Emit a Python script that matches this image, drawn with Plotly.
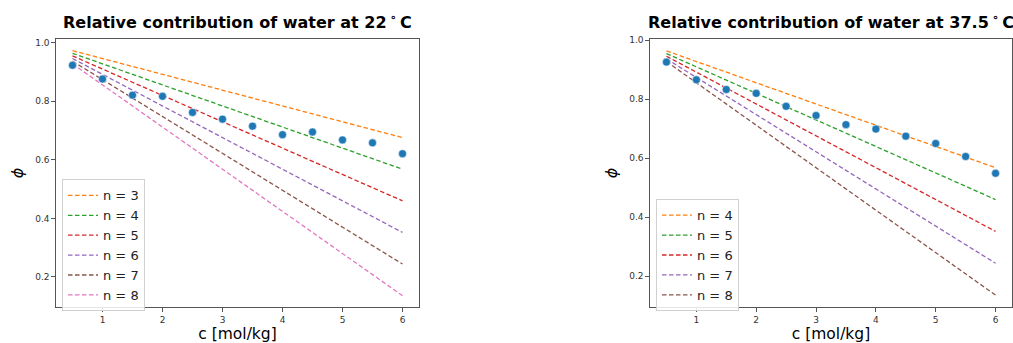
import plotly.graph_objects as go

# ---- data ----
c_points = [0.5, 1.0, 1.5, 2.0, 2.5, 3.0, 3.5, 4.0, 4.5, 5.0, 5.5, 6.0]
phi_22 = [0.923, 0.876, 0.821, 0.817, 0.762, 0.739, 0.715, 0.686, 0.695, 0.668, 0.658, 0.621]
phi_375 = [0.926, 0.866, 0.833, 0.820, 0.776, 0.745, 0.714, 0.699, 0.675, 0.650, 0.606, 0.549]

c_line = [0.5, 6.0]
n_values_22 = [3, 4, 5, 6, 7, 8]
n_values_375 = [4, 5, 6, 7, 8]
line_vals = {
    3: [0.973, 0.676],
    4: [0.964, 0.568],
    5: [0.955, 0.460],
    6: [0.946, 0.352],
    7: [0.937, 0.244],
    8: [0.928, 0.136],
}
colors_22 = ["#ff7f0e", "#2ca02c", "#d62728", "#9467bd", "#8c564b", "#e377c2"]
colors_375 = ["#ff7f0e", "#2ca02c", "#d62728", "#9467bd", "#8c564b"]
titles = ["Relative contribution of water at 22\u2009<sup>∘</sup>\u2009C",
          "Relative contribution of water at 37.5\u2009<sup>∘</sup>\u2009C"]
xticks = [1, 2, 3, 4, 5, 6]
yticks = [0.2, 0.4, 0.6, 0.8, 1.0]

W, H = 1013, 343
FONT = "DejaVu Sans"

fig = go.Figure()

def add_panel(xa, ya, legend, ns, cols, pts):
    for n, col in zip(ns, cols):
        fig.add_trace(go.Scatter(
            x=c_line, y=line_vals[n], mode="lines", name=f"n = {n}",
            line=dict(color=col, width=1.3, dash="4.5px,2.5px"),
            xaxis=xa, yaxis=ya, legend=legend))
    fig.add_trace(go.Scatter(
        x=c_points, y=pts, mode="markers", showlegend=False,
        marker=dict(color="#1f77b4", size=8, line=dict(color="white", width=0.5)),
        xaxis=xa, yaxis=ya))

add_panel("x", "y", "legend", n_values_22, colors_22, phi_22)
add_panel("x2", "y2", "legend2", n_values_375, colors_375, phi_375)

def px_x(p):
    return p / W

def px_y(p):
    return (H - p) / H

axis_common = dict(
    showline=True, linecolor="#555555", linewidth=1.2, mirror=True,
    ticks="outside", ticklen=3.5, tickwidth=0.8, tickcolor="#555555",
    showgrid=False, zeroline=False,
    tickfont=dict(family=FONT, size=9, color="#333333"),
)

xtitle = dict(text="c [mol/kg]", font=dict(size=15.5, family=FONT), standoff=3)
ytitle = dict(text="<i>ϕ</i>", font=dict(size=16, family=FONT), standoff=7)
legend_style = dict(xanchor="left", yanchor="top",
                    bgcolor="rgba(255,255,255,0.85)", bordercolor="#d0d0d0", borderwidth=1,
                    font=dict(family=FONT, size=13, color="#222222"),
                    tracegroupgap=0, itemwidth=30)

fig.update_layout(
    width=W, height=H,
    margin=dict(l=0, r=0, t=0, b=0),
    paper_bgcolor="white", plot_bgcolor="white",
    font=dict(family=FONT, color="black"),
    xaxis=dict(domain=[px_x(56), px_x(419)], range=[0.225, 6.275], tickvals=xticks,
               anchor="y", title=xtitle, **axis_common),
    yaxis=dict(domain=[px_y(307), px_y(36)], range=[0.0962, 1.0138], tickvals=yticks,
               tickformat=".1f", anchor="x", title=ytitle, **axis_common),
    xaxis2=dict(domain=[px_x(650), px_x(1012)], range=[0.225, 6.275], tickvals=xticks,
                anchor="y2", title=xtitle, **axis_common),
    yaxis2=dict(domain=[px_y(307), px_y(36)], range=[0.0946, 1.0054], tickvals=yticks,
                tickformat=".1f", anchor="x2", title=ytitle, **axis_common),
    legend=dict(x=px_x(62), y=px_y(178), **legend_style),
    legend2=dict(x=px_x(656), y=px_y(198), **legend_style),
    annotations=[
        dict(text=f"<b>{titles[0]}</b>", x=(px_x(56) + px_x(419)) / 2, y=px_y(31),
             xref="paper", yref="paper", xanchor="center", yanchor="bottom",
             showarrow=False, font=dict(family=FONT, size=16, color="black")),
        dict(text=f"<b>{titles[1]}</b>", x=(px_x(650) + px_x(1012)) / 2, y=px_y(31),
             xref="paper", yref="paper", xanchor="center", yanchor="bottom",
             showarrow=False, font=dict(family=FONT, size=16, color="black")),
    ],
)

fig.write_html("out.html")
